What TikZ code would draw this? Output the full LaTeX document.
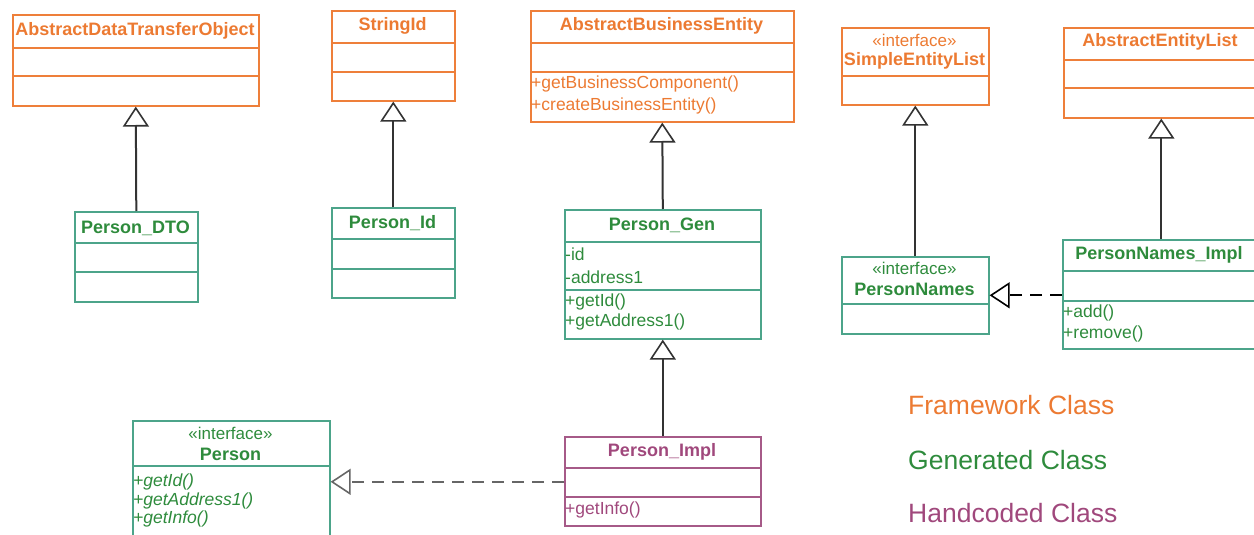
\documentclass[tikz,border=0pt]{standalone}
\usepackage{fontspec}
\setmainfont{Liberation Sans}
\usetikzlibrary{arrows.meta}
\definecolor{fwo}{HTML}{EE7F3A}
\definecolor{fwt}{HTML}{EC7A32}
\definecolor{gent}{HTML}{2E8B3C}
\definecolor{genb}{HTML}{4CA48A}
\definecolor{hct}{HTML}{A0487C}
\definecolor{hcb}{HTML}{A65A88}
\definecolor{lnk}{HTML}{333333}
\definecolor{dlnk}{HTML}{666666}
\begin{document}
\begin{tikzpicture}[x=1pt,y=-1pt,
 box/.style={draw, line width=1.6pt, inner sep=0pt, anchor=north west},
 fw/.style={box, draw=fwo},
 gn/.style={box, draw=genb},
 hd/.style={box, draw=hcb},
 fwline/.style={draw=fwo, line width=1.6pt},
 gnline/.style={draw=genb, line width=1.6pt},
 hdline/.style={draw=hcb, line width=1.6pt},
 title/.style={font=\fontsize{18}{20}\selectfont\bfseries, inner sep=0pt},
 member/.style={font=\fontsize{17.5}{20}\selectfont, inner sep=0pt, anchor=west},
 stereo/.style={font=\fontsize{17}{20}\selectfont, inner sep=0pt},
 inherit/.style={draw=lnk, line width=2pt, -{Triangle[open,length=20pt,width=26pt,line width=1.6pt]}},
 realize/.style={inherit, dash pattern=on 12pt off 8pt},
 legend/.style={font=\fontsize{26.5}{30}\selectfont, anchor=west, inner sep=0pt}]
\useasboundingbox (0,0) rectangle (1254,535);

% ---------- Framework classes ----------
\node[fw, minimum width=246pt, minimum height=91pt] (adto) at (12,14) {};
\draw[fwline] (12,48) -- (258,48) (12,76) -- (258,76);
\node[title, text=fwt] (adtoT) at (135,31) {AbstractDataTransferObject};

\node[fw, minimum width=123pt, minimum height=90pt] (sid) at (331,10) {};
\draw[fwline] (331,43) -- (454,43) (331,72) -- (454,72);
\node[title, text=fwt] (sidT) at (392.5,26) {StringId};

\node[fw, minimum width=263pt, minimum height=111pt] (abe) at (530,10) {};
\draw[fwline] (530,43) -- (793,43) (530,72) -- (793,72);
\node[title, text=fwt] (abeT) at (661.5,26) {AbstractBusinessEntity};
\node[member, text=fwt] (abeM1) at (531,84) {+getBusinessComponent()};
\node[member, text=fwt] (abeM2) at (531,106) {+createBusinessEntity()};

\node[fw, minimum width=147pt, minimum height=77pt] (sel) at (841,27) {};
\draw[fwline] (841,76) -- (988,76);
\node[stereo, text=fwt] (selS) at (914.5,40) {«interface»};
\node[title, text=fwt] (selT) at (914.5,61) {SimpleEntityList};

\node[fw, minimum width=195pt, minimum height=90pt] (ael) at (1063,27) {};
\draw[fwline] (1063,60) -- (1258,60) (1063,88) -- (1258,88);
\node[title, text=fwt] (aelT) at (1160,42) {AbstractEntityList};

% ---------- Generated classes ----------
\node[gn, minimum width=123pt, minimum height=90pt] (dto) at (74,211) {};
\draw[gnline] (74,243) -- (197,243) (74,272) -- (197,272);
\node[title, text=gent] (dtoT) at (135.5,228) {Person\_DTO};

\node[gn, minimum width=123pt, minimum height=90pt] (pid) at (331,207) {};
\draw[gnline] (331,239) -- (454,239) (331,269) -- (454,269);
\node[title, text=gent] (pidT) at (392.5,223) {Person\_Id};

\node[gn, minimum width=196pt, minimum height=129pt] (pgen) at (564,209) {};
\draw[gnline] (564,242) -- (760,242) (564,290) -- (760,290);
\node[title, text=gent] (pgenT) at (662,225) {Person\_Gen};
\node[member, text=gent] (pgenA1) at (565,254) {-id};
\node[member, text=gent] (pgenA2) at (565,277) {-address1};
\node[member, text=gent] (pgenM1) at (565,302) {+getId()};
\node[member, text=gent] (pgenM2) at (565,322) {+getAddress1()};

\node[gn, minimum width=147pt, minimum height=77pt] (pn) at (841,256) {};
\draw[gnline] (841,304) -- (988,304);
\node[stereo, text=gent] (pnS) at (914.5,268) {«interface»};
\node[title, text=gent] (pnT) at (914.5,289) {PersonNames};

\node[gn, minimum width=196pt, minimum height=109pt] (pni) at (1062,239) {};
\draw[gnline] (1062,271) -- (1258,271) (1062,301) -- (1258,301);
\node[title, text=gent] (pniT) at (1159,255) {PersonNames\_Impl};
\node[member, text=gent] (pniM1) at (1063,313) {+add()};
\node[member, text=gent] (pniM2) at (1063,334) {+remove()};

\node[gn, minimum width=197pt, minimum height=122pt] (per) at (132,420) {};
\draw[gnline] (132,466) -- (329,466);
\node[stereo, text=gent] (perS) at (230.5,433) {«interface»};
\node[title, text=gent] (perT) at (230.5,454) {Person};
\node[member, text=gent, font=\fontsize{17.5}{20}\selectfont\itshape] (perM1) at (133,482) {+getId()};
\node[member, text=gent, font=\fontsize{17.5}{20}\selectfont\itshape] (perM2) at (133,501) {+getAddress1()};
\node[member, text=gent, font=\fontsize{17.5}{20}\selectfont\itshape] (perM3) at (133,519) {+getInfo()};

% ---------- Handcoded class ----------
\node[hd, minimum width=196pt, minimum height=89pt] (pimpl) at (564,436) {};
\draw[hdline] (564,468) -- (760,468) (564,497) -- (760,497);
\node[title, text=hct] (pimplT) at (662,452) {Person\_Impl};
\node[member, text=hct] (pimplM1) at (565,510) {+getInfo()};

% ---------- Connectors ----------
\draw[inherit] (dto.north) -- (adto.south);
\draw[inherit] (pid.north) -- (sid.south);
\draw[inherit] (pgen.north) -- (abe.south);
\draw[inherit] (pimpl.north) -- (pgen.south);
\draw[inherit] (pn.north) -- (sel.south);
\draw[inherit] (pni.north -| ael.south) -- (ael.south);
\draw[realize, draw=black] (pni.west |- pn.east) -- (pn.east);
\draw[realize, draw=dlnk] (pimpl.west |- per.east) -- (per.east);

% ---------- Legend ----------
\node[legend, text=fwt] (lg1) at (908,405) {Framework Class};
\node[legend, text=gent] (lg2) at (908,460) {Generated Class};
\node[legend, text=hct] (lg3) at (908,513) {Handcoded Class};
\end{tikzpicture}
\end{document}
